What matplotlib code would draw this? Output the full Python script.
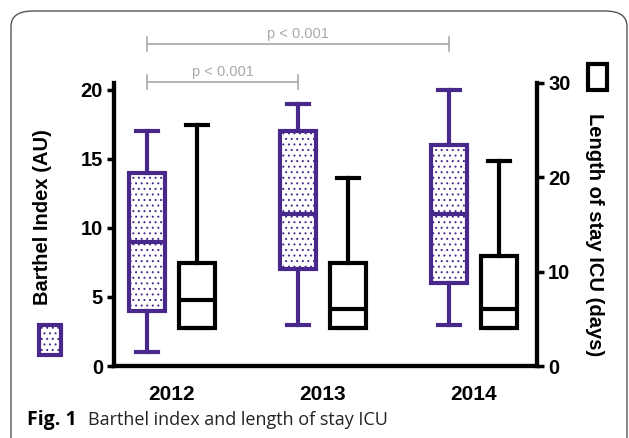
import matplotlib
matplotlib.use("Agg")
import matplotlib.pyplot as plt
from matplotlib.patches import Rectangle, FancyBboxPatch

years = ["2012", "2013", "2014"]
# Barthel index (AU): whisker low, Q1, median, Q3, whisker high
barthel_lo = [1, 3, 3]
barthel_q1 = [4, 7, 6]
barthel_med = [9, 11, 11]
barthel_q3 = [14, 17, 16]
barthel_hi = [17, 19, 20]
# length of stay ICU (days)
los_lo = [4, 4, 4]
los_q1 = [4, 4, 4]
los_med = [7, 6, 6]
los_q3 = [10.9, 10.9, 11.7]
los_hi = [25.6, 19.9, 21.7]

purple = "#48288a"
grey = "#a8a8a8"
W, H = 629, 438

plt.rcParams["font.family"] = ["Liberation Sans", "DejaVu Sans"]
plt.rcParams["hatch.linewidth"] = 0.7
fig = plt.figure(figsize=(W / 100, H / 100), dpi=100)


def px(x, y):
    # pixel (from top left) -> figure fraction
    return x / W, 1 - y / H


# frame of the figure
frame = FancyBboxPatch(px(11, 460), (627 - 11) / W, (460 - 11) / H,
                       boxstyle="round,pad=0,rounding_size=0.035",
                       transform=fig.transFigure, fill=False,
                       edgecolor="#555555", lw=1.0)
fig.patches.append(frame)

left, right, top, bottom = 114, 537, 83, 366
ax = fig.add_axes([left / W, 1 - bottom / H, (right - left) / W, (bottom - top) / H])
ax2 = ax.twinx()

off = 25 / 151
bw = 36 / 151
cw = 22 / 151

st1 = [dict(whislo=a, q1=b, med=c, q3=d, whishi=e, fliers=[])
       for a, b, c, d, e in zip(barthel_lo, barthel_q1, barthel_med, barthel_q3, barthel_hi)]
st2 = [dict(whislo=a, q1=b, med=c, q3=d, whishi=e, fliers=[])
       for a, b, c, d, e in zip(los_lo, los_q1, los_med, los_q3, los_hi)]

lw = 3.0
ax.bxp(st1, positions=[i - off for i in range(3)], widths=bw, capwidths=cw,
       patch_artist=True, showfliers=False,
       boxprops=dict(facecolor="white", edgecolor=purple, lw=lw, hatch="..."),
       whiskerprops=dict(color=purple, lw=lw),
       capprops=dict(color=purple, lw=lw),
       medianprops=dict(color=purple, lw=lw))
ax2.bxp(st2, positions=[i + off for i in range(3)], widths=bw, capwidths=cw,
        patch_artist=True, showfliers=False,
        boxprops=dict(facecolor="white", edgecolor="black", lw=lw),
        whiskerprops=dict(color="black", lw=lw),
        capprops=dict(color="black", lw=lw),
        medianprops=dict(color="black", lw=lw))

ax.set_xlim(-(172 - 114) / 151, 2 + (537 - 474) / 151)
ax.set_ylim(0, 20.5)
ax2.set_ylim(0, 30)
ax.set_xticks(range(3))
ax.set_xticklabels(years, fontsize=15, fontweight="bold")
ax.tick_params(axis="x", length=0, pad=14)
ax.set_yticks([0, 5, 10, 15, 20])
ax.tick_params(axis="y", width=2.5, length=5, labelsize=14.5, pad=3)
for t in ax.get_yticklabels():
    t.set_fontweight("bold")
ax2.set_yticks([0, 10, 20, 30])
ax2.tick_params(axis="y", width=2.5, length=5, labelsize=14.5, pad=3)
for t in ax2.get_yticklabels():
    t.set_fontweight("bold")

for a in (ax, ax2):
    a.spines["top"].set_visible(False)
    for s in ("left", "right", "bottom"):
        a.spines[s].set_linewidth(3)

ax.set_ylabel("Barthel Index (AU)", fontsize=14.5, fontweight="bold")
ax2.set_ylabel("Length of stay ICU (days)", fontsize=14.5, fontweight="bold",
               rotation=270, va="center")
ax.yaxis.set_label_coords((52 - left) / (right - left), (bottom - 217) / (bottom - top))
ax2.yaxis.set_label_coords((594 - left) / (right - left), (bottom - 235) / (bottom - top))

# significance brackets
x0 = 0 - off
for x1, yv, ytxt in [(1 - off, 20.6, 21.0), (2 - off, 23.35, 23.75)]:
    ax.plot([x0, x1], [yv, yv], color=grey, lw=1.2, clip_on=False)
    for xx in (x0, x1):
        ax.plot([xx, xx], [yv - 0.5, yv + 0.5], color=grey, lw=1.2, clip_on=False)
    ax.text((x0 + x1) / 2, ytxt, "p < 0.001", color=grey, fontsize=10.5,
            ha="center", va="baseline", clip_on=False)

# legend icons
r1 = Rectangle(px(39, 355), 22 / W, 30 / H, transform=fig.transFigure,
               facecolor="white", edgecolor=purple, lw=3, hatch="...")
r2 = Rectangle(px(588, 90), 19 / W, 26 / H, transform=fig.transFigure,
               facecolor="white", edgecolor="black", lw=3)
fig.patches.extend([r1, r2])

# caption
fig.text(27 / W, 1 - 420 / H, "Fig. 1", fontsize=14, fontweight="bold",
         family=["Open Sans", "DejaVu Sans"], va="center")
fig.text(88 / W, 1 - 420 / H, "Barthel index and length of stay ICU", fontsize=13,
         family=["Open Sans", "DejaVu Sans"], va="center", color="#222222")

fig.savefig("out.png", dpi=100)
